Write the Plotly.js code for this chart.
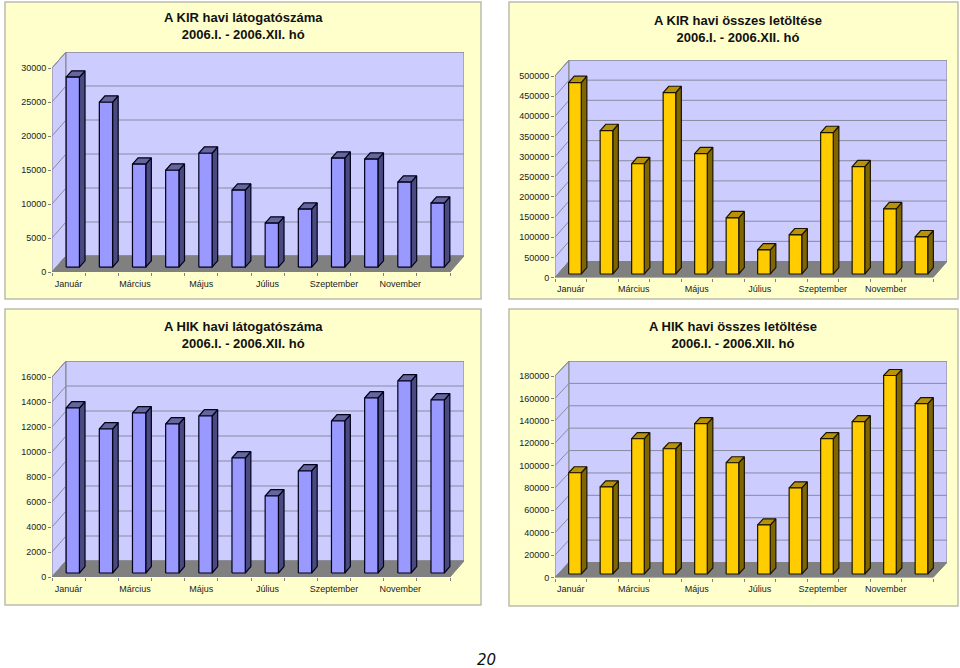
<!DOCTYPE html>
<html><head><meta charset="utf-8">
<script src="https://cdn.plot.ly/plotly-3.0.1.min.js"></script>
<style>html,body{margin:0;padding:0;background:#fff}#c{width:960px;height:668px}</style>
</head><body><div id="c"></div>
<script>
const monthLabels = ['Január','Március','Május','Július','Szeptember','November'];
const monthPositions = [0.5,2.5,4.5,6.5,8.5,10.5];
const kirVisits = [27940,24260,15150,14260,16760,11320,6470,8530,16030,15880,12500,9410];
const kirDownloads = [475000,355700,273600,450000,298500,139300,59700,97000,350700,266200,161700,92000];
const hikVisits = [13200,11520,12800,11920,12560,9200,6160,8160,12160,14000,15360,13840];
const hikDownloads = [90450,77900,120900,111900,134300,99400,43900,77000,120900,136100,177300,152200];
const kirVisitTicks = [0,5000,10000,15000,20000,25000,30000];
const kirDownloadTicks = [0,50000,100000,150000,200000,250000,300000,350000,400000,450000,500000];
const hikVisitTicks = [0,2000,4000,6000,8000,10000,12000,14000,16000];
const hikDownloadTicks = [0,20000,40000,60000,80000,100000,120000,140000,160000,180000];

const W = 960, H = 668;
const blue = {front:'#9999ff', side:'#4a4a80', top:'#66669c', line:'#00001a'};
const gold = {front:'#ffcc00', side:'#7f6600', top:'#b8930a', line:'#1a1400'};
const panels = [
  {vals:kirVisits, ticks:kirVisitTicks, col:blue, box:[5,2,481,299], L:52,R:450,y0:272,yT:68,dx:14,dy:16,lift:4.8,
   title:['A KIR havi látogatószáma','2006.I. - 2006.XII. hó'], tx:243, ty:26},
  {vals:kirDownloads, ticks:kirDownloadTicks, col:gold, box:[509,2,958,299], L:555,R:933,y0:277.5,yT:76,dx:14,dy:16,lift:3.5,
   title:['A KIR havi összes letöltése','2006.I. - 2006.XII. hó'], tx:738, ty:29},
  {vals:hikVisits, ticks:hikVisitTicks, col:blue, box:[5,309,481,605], L:52,R:450,y0:577,yT:377,dx:14,dy:16,lift:4,
   title:['A HIK havi látogatószáma','2006.I. - 2006.XII. hó'], tx:243, ty:334.5},
  {vals:hikDownloads, ticks:hikDownloadTicks, col:gold, box:[509,309,958,606], L:555,R:933,y0:577.5,yT:376,dx:14,dy:15,lift:3.5,
   title:['A HIK havi összes letöltése','2006.I. - 2006.XII. hó'], tx:733, ty:334.5}
];

const traces = [], shapes = [], annotations = [];
const layout = {width:W, height:H, margin:{l:0,r:0,t:0,b:0}, paper_bgcolor:'#fff', plot_bgcolor:'rgba(0,0,0,0)',
  showlegend:false, hovermode:false, font:{family:'"Liberation Sans", Arial, sans-serif', size:9, color:'#222'}};

panels.forEach((p,idx)=>{
  const n = idx===0?'':String(idx+1);
  const xa='x'+n, ya='y'+n;
  const vmax = p.ticks[p.ticks.length-1];
  const catW = (p.R-p.L)/12;
  const D = p.dx/catW;
  const perPx = vmax/(p.y0-p.yT);
  const DY = p.dy*perPx;
  const add=(x,y,fill,line,lw)=>traces.push({type:'scatter',mode:'lines',xaxis:xa,yaxis:ya,x,y,
    fill:fill?'toself':'none',fillcolor:fill||undefined,line:{color:line,width:lw===undefined?1:lw,simplify:false},
    connectgaps:false,hoverinfo:'skip',cliponaxis:false});
  add([0,D,D,0,0],[0,DY,vmax+DY,vmax,0],'#ccccff','#808080');
  add([D,12+D,12+D,D,D],[DY,DY,vmax+DY,vmax+DY,DY],'#ccccff','#808080');
  const gx=[],gy=[];
  p.ticks.forEach(t=>{gx.push(0,D,12+D,null);gy.push(t,t+DY,t+DY,null);});
  add(gx,gy,null,'#8a8aa0');
  add([0,12,12+D,D,0],[0,0,DY,DY,0],'#808080','#808080');
  const fx=[],fy=[],sx=[],sy=[],tx=[],ty=[];
  const d0=0.3,d1=0.7;
  const lift=p.lift*perPx;
  p.vals.forEach((v,i)=>{
    const xl=i+0.3+d0*D, xr=i+0.7+d0*D, b=lift, t=v+lift, ox=(d1-d0)*D, oy=(d1-d0)*DY;
    fx.push(xl,xr,xr,xl,xl,null); fy.push(b,b,t,t,b,null);
    sx.push(xr,xr+ox,xr+ox,xr,xr,null); sy.push(b,b+oy,t+oy,t,b,null);
    tx.push(xl,xr,xr+ox,xl+ox,xl,null); ty.push(t,t,t+oy,t+oy,t,null);
  });
  add(sx,sy,p.col.side,p.col.line,1.2);
  add(tx,ty,p.col.top,p.col.line,1.2);
  add(fx,fy,p.col.front,p.col.line,1.2);

  layout['xaxis'+n]={anchor:ya,domain:[p.L/W,(p.R+p.dx)/W],range:[0,12+D],showgrid:false,zeroline:false,showline:false,
    tickmode:'array',tickvals:monthPositions,ticktext:monthLabels,ticks:'outside',ticklen:3,tickcolor:'rgba(0,0,0,0)',
    tickfont:{size:9,color:'#222'},tickangle:0,
    minor:{tickmode:'array',tickvals:[0,1,2,3,4,5,6,7,8,9,10,11,12],ticks:'outside',ticklen:3,tickcolor:'#808080',tickwidth:1,showgrid:false}};
  layout['yaxis'+n]={anchor:xa,domain:[1-p.y0/H,1-(p.yT-p.dy)/H],range:[0,vmax+DY],showgrid:false,zeroline:false,showline:false,
    tickmode:'array',tickvals:p.ticks,ticktext:p.ticks.map(String),ticks:'outside',ticklen:3,tickcolor:'#808080',
    tickfont:{size:9,color:'#222'}};

  shapes.push({type:'rect',xref:'paper',yref:'paper',layer:'below',
    x0:p.box[0]/W,x1:p.box[2]/W,y0:1-p.box[1]/H,y1:1-p.box[3]/H,
    fillcolor:'#ffffcc',line:{color:'#bcbcac',width:1.5}});
  annotations.push({xref:'paper',yref:'paper',x:p.tx/W,y:1-p.ty/H,xanchor:'center',yanchor:'middle',showarrow:false,
    align:'center',text:'<b>'+p.title.join('<br>')+'</b>',font:{size:13,color:'#111',family:'"Liberation Sans", Arial, sans-serif'}});
});
annotations.push({xref:'paper',yref:'paper',x:486/W,y:-2/H,xanchor:'center',yanchor:'bottom',showarrow:false,borderpad:0,
  text:'<i>20</i>',font:{size:15,color:'#111',family:'"DejaVu Sans", sans-serif'}});
layout.shapes=shapes; layout.annotations=annotations;
Plotly.newPlot('c',traces,layout,{displayModeBar:false,staticPlot:true});
</script></body></html>
